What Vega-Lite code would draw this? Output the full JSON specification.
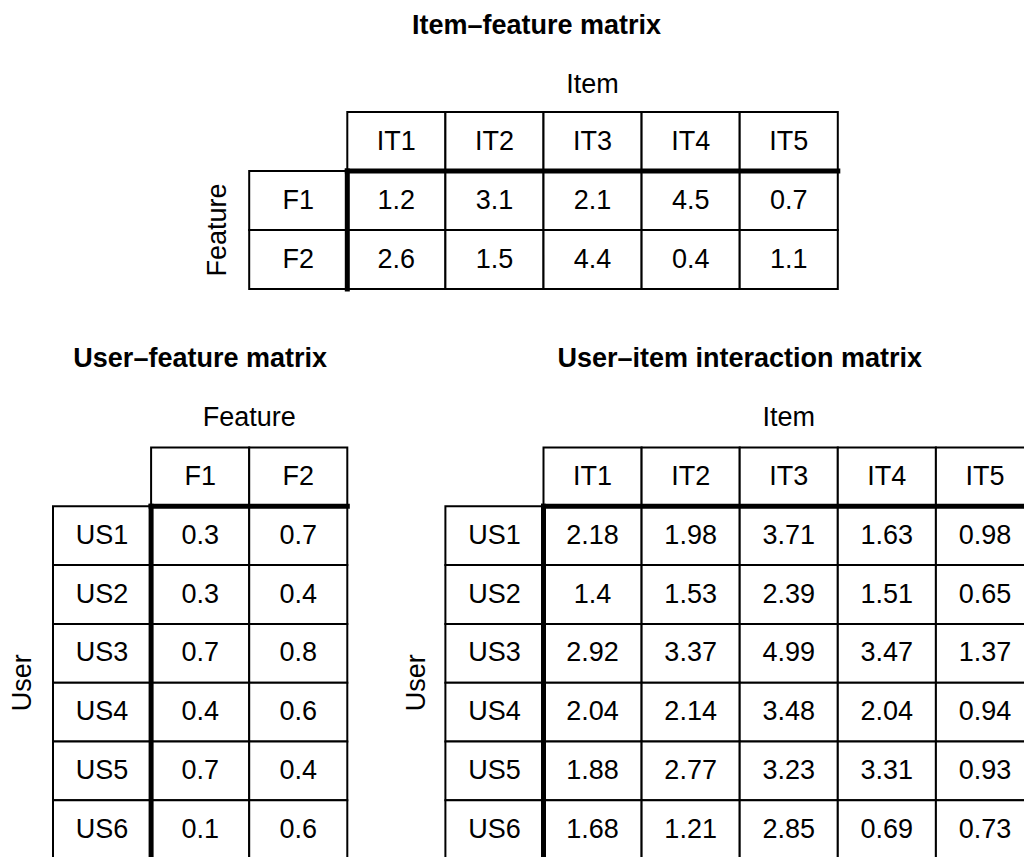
{
  "$schema": "https://vega.github.io/schema/vega-lite/v6.json",
  "background": "white",
  "padding": {"left": 9, "top": 11, "right": 0, "bottom": 0},
  "config": {"view": {"stroke": null}, "font": "Liberation Sans"},
  "spacing": 41,
  "bounds": "flush",
  "vconcat": [
    {
      "width": 981,
      "height": 236,
      "layer": [
        {
          "data": {"values": [
            {"feature": "F1", "item": "IT1", "value": 1.2},
            {"feature": "F1", "item": "IT2", "value": 3.1},
            {"feature": "F1", "item": "IT3", "value": 2.1},
            {"feature": "F1", "item": "IT4", "value": 4.5},
            {"feature": "F1", "item": "IT5", "value": 0.7},
            {"feature": "F2", "item": "IT1", "value": 2.6},
            {"feature": "F2", "item": "IT2", "value": 1.5},
            {"feature": "F2", "item": "IT3", "value": 4.4},
            {"feature": "F2", "item": "IT4", "value": 0.4},
            {"feature": "F2", "item": "IT5", "value": 1.1}
          ]},
          "encoding": {
            "x": {"field": "item", "type": "nominal", "scale": {"type": "band", "domain": ["_a", "_b", "F", "IT1", "IT2", "IT3", "IT4", "IT5", "_c", "_d"], "paddingInner": 0, "paddingOuter": 0}, "axis": null},
            "y": {"field": "feature", "type": "nominal", "scale": {"type": "band", "domain": ["axis", "header", "F1", "F2"], "paddingInner": 0, "paddingOuter": 0}, "axis": null}
          },
          "layer": [
            {"mark": {"type": "rect", "fill": "white", "stroke": "black", "strokeWidth": 2}},
            {"mark": {"type": "text", "fontSize": 27, "color": "black"}, "encoding": {"text": {"field": "value", "type": "quantitative", "format": "~g"}}}
          ]
        },
        {
          "data": {"values": [{"item": "IT1"}, {"item": "IT2"}, {"item": "IT3"}, {"item": "IT4"}, {"item": "IT5"}]},
          "encoding": {
            "x": {"field": "item", "type": "nominal", "scale": {"type": "band", "domain": ["_a", "_b", "F", "IT1", "IT2", "IT3", "IT4", "IT5", "_c", "_d"], "paddingInner": 0, "paddingOuter": 0}, "axis": null},
            "y": {"datum": "header", "type": "nominal", "scale": {"type": "band", "domain": ["axis", "header", "F1", "F2"], "paddingInner": 0, "paddingOuter": 0}, "axis": null}
          },
          "layer": [
            {"mark": {"type": "rect", "fill": "white", "stroke": "black", "strokeWidth": 2}},
            {"mark": {"type": "text", "fontSize": 27, "color": "black"}, "encoding": {"text": {"field": "item"}}}
          ]
        },
        {
          "data": {"values": [{"feature": "F1"}, {"feature": "F2"}]},
          "encoding": {
            "x": {"datum": "F", "type": "nominal", "scale": {"type": "band", "domain": ["_a", "_b", "F", "IT1", "IT2", "IT3", "IT4", "IT5", "_c", "_d"], "paddingInner": 0, "paddingOuter": 0}, "axis": null},
            "y": {"field": "feature", "type": "nominal", "scale": {"type": "band", "domain": ["axis", "header", "F1", "F2"], "paddingInner": 0, "paddingOuter": 0}, "axis": null}
          },
          "layer": [
            {"mark": {"type": "rect", "fill": "white", "stroke": "black", "strokeWidth": 2}},
            {"mark": {"type": "text", "fontSize": 27, "color": "black"}, "encoding": {"text": {"field": "feature"}}}
          ]
        },
        {
          "data": {"values": [{}]},
          "mark": {"type": "rule", "strokeWidth": 5, "strokeCap": "square", "color": "black"},
          "encoding": {
            "x": {"datum": "IT1", "type": "nominal", "bandPosition": 0, "scale": {"type": "band", "domain": ["_a", "_b", "F", "IT1", "IT2", "IT3", "IT4", "IT5", "_c", "_d"], "paddingInner": 0, "paddingOuter": 0}, "axis": null},
            "x2": {"datum": "IT5", "bandPosition": 1},
            "y": {"datum": "F1", "type": "nominal", "bandPosition": 0, "scale": {"type": "band", "domain": ["axis", "header", "F1", "F2"], "paddingInner": 0, "paddingOuter": 0}, "axis": null}
          }
        },
        {
          "data": {"values": [{}]},
          "mark": {"type": "rule", "strokeWidth": 5, "strokeCap": "square", "color": "black"},
          "encoding": {
            "x": {"datum": "IT1", "type": "nominal", "bandPosition": 0, "scale": {"type": "band", "domain": ["_a", "_b", "F", "IT1", "IT2", "IT3", "IT4", "IT5", "_c", "_d"], "paddingInner": 0, "paddingOuter": 0}, "axis": null},
            "y": {"datum": "F1", "type": "nominal", "bandPosition": 0, "scale": {"type": "band", "domain": ["axis", "header", "F1", "F2"], "paddingInner": 0, "paddingOuter": 0}, "axis": null},
            "y2": {"datum": "F2", "bandPosition": 1}
          }
        },
        {
          "data": {"values": [{"label": "Item–feature matrix"}]},
          "mark": {"type": "text", "fontSize": 27, "fontWeight": "bold", "color": "black", "dx": -7, "dy": -57},
          "encoding": {
            "x": {"datum": "IT3", "type": "nominal", "bandPosition": 0, "scale": {"type": "band", "domain": ["_a", "_b", "F", "IT1", "IT2", "IT3", "IT4", "IT5", "_c", "_d"], "paddingInner": 0, "paddingOuter": 0}, "axis": null},
            "y": {"datum": "axis", "type": "nominal", "scale": {"type": "band", "domain": ["axis", "header", "F1", "F2"], "paddingInner": 0, "paddingOuter": 0}, "axis": null},
            "text": {"field": "label"}
          }
        },
        {
          "data": {"values": [{"label": "Item"}]},
          "mark": {"type": "text", "fontSize": 27, "color": "black", "dy": 2},
          "encoding": {
            "x": {"datum": "IT3", "type": "nominal", "scale": {"type": "band", "domain": ["_a", "_b", "F", "IT1", "IT2", "IT3", "IT4", "IT5", "_c", "_d"], "paddingInner": 0, "paddingOuter": 0}, "axis": null},
            "y": {"datum": "axis", "type": "nominal", "scale": {"type": "band", "domain": ["axis", "header", "F1", "F2"], "paddingInner": 0, "paddingOuter": 0}, "axis": null},
            "text": {"field": "label"}
          }
        },
        {
          "data": {"values": [{"label": "Feature"}]},
          "mark": {"type": "text", "fontSize": 27, "color": "black", "angle": 270, "dy": -31},
          "encoding": {
            "x": {"datum": "F", "type": "nominal", "bandPosition": 0, "scale": {"type": "band", "domain": ["_a", "_b", "F", "IT1", "IT2", "IT3", "IT4", "IT5", "_c", "_d"], "paddingInner": 0, "paddingOuter": 0}, "axis": null},
            "y": {"datum": "F2", "type": "nominal", "bandPosition": 0, "scale": {"type": "band", "domain": ["axis", "header", "F1", "F2"], "paddingInner": 0, "paddingOuter": 0}, "axis": null},
            "text": {"field": "label"}
          }
        }
      ]
    },
    {
      "width": 981,
      "height": 529,
      "layer": [
        {
          "data": {"values": [
            {"user": "US1", "feature": "F1", "value": 0.3},
            {"user": "US1", "feature": "F2", "value": 0.7},
            {"user": "US2", "feature": "F1", "value": 0.3},
            {"user": "US2", "feature": "F2", "value": 0.4},
            {"user": "US3", "feature": "F1", "value": 0.7},
            {"user": "US3", "feature": "F2", "value": 0.8},
            {"user": "US4", "feature": "F1", "value": 0.4},
            {"user": "US4", "feature": "F2", "value": 0.6},
            {"user": "US5", "feature": "F1", "value": 0.7},
            {"user": "US5", "feature": "F2", "value": 0.4},
            {"user": "US6", "feature": "F1", "value": 0.1},
            {"user": "US6", "feature": "F2", "value": 0.6}
          ]},
          "encoding": {
            "x": {"field": "feature", "type": "nominal", "scale": {"type": "band", "domain": ["UF", "F1", "F2", "gap", "UI", "IT1", "IT2", "IT3", "IT4", "IT5"], "paddingInner": 0, "paddingOuter": 0}, "axis": null},
            "y": {"field": "user", "type": "nominal", "scale": {"type": "band", "domain": ["title", "axis", "header", "US1", "US2", "US3", "US4", "US5", "US6"], "paddingInner": 0, "paddingOuter": 0}, "axis": null}
          },
          "layer": [
            {"mark": {"type": "rect", "fill": "white", "stroke": "black", "strokeWidth": 2}},
            {"mark": {"type": "text", "fontSize": 27, "color": "black"}, "encoding": {"text": {"field": "value", "type": "quantitative", "format": "~g"}}}
          ]
        },
        {
          "data": {"values": [
            {"user": "US1", "item": "IT1", "value": 2.18},
            {"user": "US1", "item": "IT2", "value": 1.98},
            {"user": "US1", "item": "IT3", "value": 3.71},
            {"user": "US1", "item": "IT4", "value": 1.63},
            {"user": "US1", "item": "IT5", "value": 0.98},
            {"user": "US2", "item": "IT1", "value": 1.4},
            {"user": "US2", "item": "IT2", "value": 1.53},
            {"user": "US2", "item": "IT3", "value": 2.39},
            {"user": "US2", "item": "IT4", "value": 1.51},
            {"user": "US2", "item": "IT5", "value": 0.65},
            {"user": "US3", "item": "IT1", "value": 2.92},
            {"user": "US3", "item": "IT2", "value": 3.37},
            {"user": "US3", "item": "IT3", "value": 4.99},
            {"user": "US3", "item": "IT4", "value": 3.47},
            {"user": "US3", "item": "IT5", "value": 1.37},
            {"user": "US4", "item": "IT1", "value": 2.04},
            {"user": "US4", "item": "IT2", "value": 2.14},
            {"user": "US4", "item": "IT3", "value": 3.48},
            {"user": "US4", "item": "IT4", "value": 2.04},
            {"user": "US4", "item": "IT5", "value": 0.94},
            {"user": "US5", "item": "IT1", "value": 1.88},
            {"user": "US5", "item": "IT2", "value": 2.77},
            {"user": "US5", "item": "IT3", "value": 3.23},
            {"user": "US5", "item": "IT4", "value": 3.31},
            {"user": "US5", "item": "IT5", "value": 0.93},
            {"user": "US6", "item": "IT1", "value": 1.68},
            {"user": "US6", "item": "IT2", "value": 1.21},
            {"user": "US6", "item": "IT3", "value": 2.85},
            {"user": "US6", "item": "IT4", "value": 0.69},
            {"user": "US6", "item": "IT5", "value": 0.73}
          ]},
          "encoding": {
            "x": {"field": "item", "type": "nominal", "scale": {"type": "band", "domain": ["UF", "F1", "F2", "gap", "UI", "IT1", "IT2", "IT3", "IT4", "IT5"], "paddingInner": 0, "paddingOuter": 0}, "axis": null},
            "y": {"field": "user", "type": "nominal", "scale": {"type": "band", "domain": ["title", "axis", "header", "US1", "US2", "US3", "US4", "US5", "US6"], "paddingInner": 0, "paddingOuter": 0}, "axis": null}
          },
          "layer": [
            {"mark": {"type": "rect", "fill": "white", "stroke": "black", "strokeWidth": 2}},
            {"mark": {"type": "text", "fontSize": 27, "color": "black"}, "encoding": {"text": {"field": "value", "type": "quantitative", "format": "~g"}}}
          ]
        },
        {
          "data": {"values": [{"feature": "F1"}, {"feature": "F2"}]},
          "encoding": {
            "x": {"field": "feature", "type": "nominal", "scale": {"type": "band", "domain": ["UF", "F1", "F2", "gap", "UI", "IT1", "IT2", "IT3", "IT4", "IT5"], "paddingInner": 0, "paddingOuter": 0}, "axis": null},
            "y": {"datum": "header", "type": "nominal", "scale": {"type": "band", "domain": ["title", "axis", "header", "US1", "US2", "US3", "US4", "US5", "US6"], "paddingInner": 0, "paddingOuter": 0}, "axis": null}
          },
          "layer": [
            {"mark": {"type": "rect", "fill": "white", "stroke": "black", "strokeWidth": 2}},
            {"mark": {"type": "text", "fontSize": 27, "color": "black"}, "encoding": {"text": {"field": "feature"}}}
          ]
        },
        {
          "data": {"values": [{"item": "IT1"}, {"item": "IT2"}, {"item": "IT3"}, {"item": "IT4"}, {"item": "IT5"}]},
          "encoding": {
            "x": {"field": "item", "type": "nominal", "scale": {"type": "band", "domain": ["UF", "F1", "F2", "gap", "UI", "IT1", "IT2", "IT3", "IT4", "IT5"], "paddingInner": 0, "paddingOuter": 0}, "axis": null},
            "y": {"datum": "header", "type": "nominal", "scale": {"type": "band", "domain": ["title", "axis", "header", "US1", "US2", "US3", "US4", "US5", "US6"], "paddingInner": 0, "paddingOuter": 0}, "axis": null}
          },
          "layer": [
            {"mark": {"type": "rect", "fill": "white", "stroke": "black", "strokeWidth": 2}},
            {"mark": {"type": "text", "fontSize": 27, "color": "black"}, "encoding": {"text": {"field": "item"}}}
          ]
        },
        {
          "data": {"values": [{"user": "US1"}, {"user": "US2"}, {"user": "US3"}, {"user": "US4"}, {"user": "US5"}, {"user": "US6"}]},
          "encoding": {
            "x": {"datum": "UF", "type": "nominal", "scale": {"type": "band", "domain": ["UF", "F1", "F2", "gap", "UI", "IT1", "IT2", "IT3", "IT4", "IT5"], "paddingInner": 0, "paddingOuter": 0}, "axis": null},
            "y": {"field": "user", "type": "nominal", "scale": {"type": "band", "domain": ["title", "axis", "header", "US1", "US2", "US3", "US4", "US5", "US6"], "paddingInner": 0, "paddingOuter": 0}, "axis": null}
          },
          "layer": [
            {"mark": {"type": "rect", "fill": "white", "stroke": "black", "strokeWidth": 2}},
            {"mark": {"type": "text", "fontSize": 27, "color": "black"}, "encoding": {"text": {"field": "user"}}}
          ]
        },
        {
          "data": {"values": [{"user": "US1"}, {"user": "US2"}, {"user": "US3"}, {"user": "US4"}, {"user": "US5"}, {"user": "US6"}]},
          "encoding": {
            "x": {"datum": "UI", "type": "nominal", "scale": {"type": "band", "domain": ["UF", "F1", "F2", "gap", "UI", "IT1", "IT2", "IT3", "IT4", "IT5"], "paddingInner": 0, "paddingOuter": 0}, "axis": null},
            "y": {"field": "user", "type": "nominal", "scale": {"type": "band", "domain": ["title", "axis", "header", "US1", "US2", "US3", "US4", "US5", "US6"], "paddingInner": 0, "paddingOuter": 0}, "axis": null}
          },
          "layer": [
            {"mark": {"type": "rect", "fill": "white", "stroke": "black", "strokeWidth": 2}},
            {"mark": {"type": "text", "fontSize": 27, "color": "black"}, "encoding": {"text": {"field": "user"}}}
          ]
        },
        {
          "data": {"values": [{}]},
          "mark": {"type": "rule", "strokeWidth": 5, "strokeCap": "square", "color": "black"},
          "encoding": {
            "x": {"datum": "F1", "type": "nominal", "bandPosition": 0, "scale": {"type": "band", "domain": ["UF", "F1", "F2", "gap", "UI", "IT1", "IT2", "IT3", "IT4", "IT5"], "paddingInner": 0, "paddingOuter": 0}, "axis": null},
            "x2": {"datum": "F2", "bandPosition": 1},
            "y": {"datum": "US1", "type": "nominal", "bandPosition": 0, "scale": {"type": "band", "domain": ["title", "axis", "header", "US1", "US2", "US3", "US4", "US5", "US6"], "paddingInner": 0, "paddingOuter": 0}, "axis": null}
          }
        },
        {
          "data": {"values": [{}]},
          "mark": {"type": "rule", "strokeWidth": 5, "strokeCap": "square", "color": "black"},
          "encoding": {
            "x": {"datum": "F1", "type": "nominal", "bandPosition": 0, "scale": {"type": "band", "domain": ["UF", "F1", "F2", "gap", "UI", "IT1", "IT2", "IT3", "IT4", "IT5"], "paddingInner": 0, "paddingOuter": 0}, "axis": null},
            "y": {"datum": "US1", "type": "nominal", "bandPosition": 0, "scale": {"type": "band", "domain": ["title", "axis", "header", "US1", "US2", "US3", "US4", "US5", "US6"], "paddingInner": 0, "paddingOuter": 0}, "axis": null},
            "y2": {"datum": "US6", "bandPosition": 1}
          }
        },
        {
          "data": {"values": [{}]},
          "mark": {"type": "rule", "strokeWidth": 5, "strokeCap": "square", "color": "black"},
          "encoding": {
            "x": {"datum": "IT1", "type": "nominal", "bandPosition": 0, "scale": {"type": "band", "domain": ["UF", "F1", "F2", "gap", "UI", "IT1", "IT2", "IT3", "IT4", "IT5"], "paddingInner": 0, "paddingOuter": 0}, "axis": null},
            "x2": {"datum": "IT5", "bandPosition": 1},
            "y": {"datum": "US1", "type": "nominal", "bandPosition": 0, "scale": {"type": "band", "domain": ["title", "axis", "header", "US1", "US2", "US3", "US4", "US5", "US6"], "paddingInner": 0, "paddingOuter": 0}, "axis": null}
          }
        },
        {
          "data": {"values": [{}]},
          "mark": {"type": "rule", "strokeWidth": 5, "strokeCap": "square", "color": "black"},
          "encoding": {
            "x": {"datum": "IT1", "type": "nominal", "bandPosition": 0, "scale": {"type": "band", "domain": ["UF", "F1", "F2", "gap", "UI", "IT1", "IT2", "IT3", "IT4", "IT5"], "paddingInner": 0, "paddingOuter": 0}, "axis": null},
            "y": {"datum": "US1", "type": "nominal", "bandPosition": 0, "scale": {"type": "band", "domain": ["title", "axis", "header", "US1", "US2", "US3", "US4", "US5", "US6"], "paddingInner": 0, "paddingOuter": 0}, "axis": null},
            "y2": {"datum": "US6", "bandPosition": 1}
          }
        },
        {
          "data": {"values": [{"label": "User–feature matrix"}]},
          "mark": {"type": "text", "fontSize": 27, "fontWeight": "bold", "color": "black"},
          "encoding": {
            "x": {"datum": "F1", "type": "nominal", "scale": {"type": "band", "domain": ["UF", "F1", "F2", "gap", "UI", "IT1", "IT2", "IT3", "IT4", "IT5"], "paddingInner": 0, "paddingOuter": 0}, "axis": null},
            "y": {"datum": "title", "type": "nominal", "scale": {"type": "band", "domain": ["title", "axis", "header", "US1", "US2", "US3", "US4", "US5", "US6"], "paddingInner": 0, "paddingOuter": 0}, "axis": null},
            "text": {"field": "label"}
          }
        },
        {
          "data": {"values": [{"label": "User–item interaction matrix"}]},
          "mark": {"type": "text", "fontSize": 27, "fontWeight": "bold", "color": "black"},
          "encoding": {
            "x": {"datum": "IT3", "type": "nominal", "bandPosition": 0, "scale": {"type": "band", "domain": ["UF", "F1", "F2", "gap", "UI", "IT1", "IT2", "IT3", "IT4", "IT5"], "paddingInner": 0, "paddingOuter": 0}, "axis": null},
            "y": {"datum": "title", "type": "nominal", "scale": {"type": "band", "domain": ["title", "axis", "header", "US1", "US2", "US3", "US4", "US5", "US6"], "paddingInner": 0, "paddingOuter": 0}, "axis": null},
            "text": {"field": "label"}
          }
        },
        {
          "data": {"values": [{"label": "Feature"}]},
          "mark": {"type": "text", "fontSize": 27, "color": "black"},
          "encoding": {
            "x": {"datum": "F2", "type": "nominal", "bandPosition": 0, "scale": {"type": "band", "domain": ["UF", "F1", "F2", "gap", "UI", "IT1", "IT2", "IT3", "IT4", "IT5"], "paddingInner": 0, "paddingOuter": 0}, "axis": null},
            "y": {"datum": "axis", "type": "nominal", "scale": {"type": "band", "domain": ["title", "axis", "header", "US1", "US2", "US3", "US4", "US5", "US6"], "paddingInner": 0, "paddingOuter": 0}, "axis": null},
            "text": {"field": "label"}
          }
        },
        {
          "data": {"values": [{"label": "Item"}]},
          "mark": {"type": "text", "fontSize": 27, "color": "black"},
          "encoding": {
            "x": {"datum": "IT3", "type": "nominal", "scale": {"type": "band", "domain": ["UF", "F1", "F2", "gap", "UI", "IT1", "IT2", "IT3", "IT4", "IT5"], "paddingInner": 0, "paddingOuter": 0}, "axis": null},
            "y": {"datum": "axis", "type": "nominal", "scale": {"type": "band", "domain": ["title", "axis", "header", "US1", "US2", "US3", "US4", "US5", "US6"], "paddingInner": 0, "paddingOuter": 0}, "axis": null},
            "text": {"field": "label"}
          }
        },
        {
          "data": {"values": [{"label": "User"}]},
          "mark": {"type": "text", "fontSize": 27, "color": "black", "angle": 270, "dy": -30},
          "encoding": {
            "x": {"datum": "UF", "type": "nominal", "bandPosition": 0, "scale": {"type": "band", "domain": ["UF", "F1", "F2", "gap", "UI", "IT1", "IT2", "IT3", "IT4", "IT5"], "paddingInner": 0, "paddingOuter": 0}, "axis": null},
            "y": {"datum": "US4", "type": "nominal", "bandPosition": 0, "scale": {"type": "band", "domain": ["title", "axis", "header", "US1", "US2", "US3", "US4", "US5", "US6"], "paddingInner": 0, "paddingOuter": 0}, "axis": null},
            "text": {"field": "label"}
          }
        },
        {
          "data": {"values": [{"label": "User"}]},
          "mark": {"type": "text", "fontSize": 27, "color": "black", "angle": 270, "dy": -28},
          "encoding": {
            "x": {"datum": "UI", "type": "nominal", "bandPosition": 0, "scale": {"type": "band", "domain": ["UF", "F1", "F2", "gap", "UI", "IT1", "IT2", "IT3", "IT4", "IT5"], "paddingInner": 0, "paddingOuter": 0}, "axis": null},
            "y": {"datum": "US4", "type": "nominal", "bandPosition": 0, "scale": {"type": "band", "domain": ["title", "axis", "header", "US1", "US2", "US3", "US4", "US5", "US6"], "paddingInner": 0, "paddingOuter": 0}, "axis": null},
            "text": {"field": "label"}
          }
        }
      ]
    }
  ]
}
